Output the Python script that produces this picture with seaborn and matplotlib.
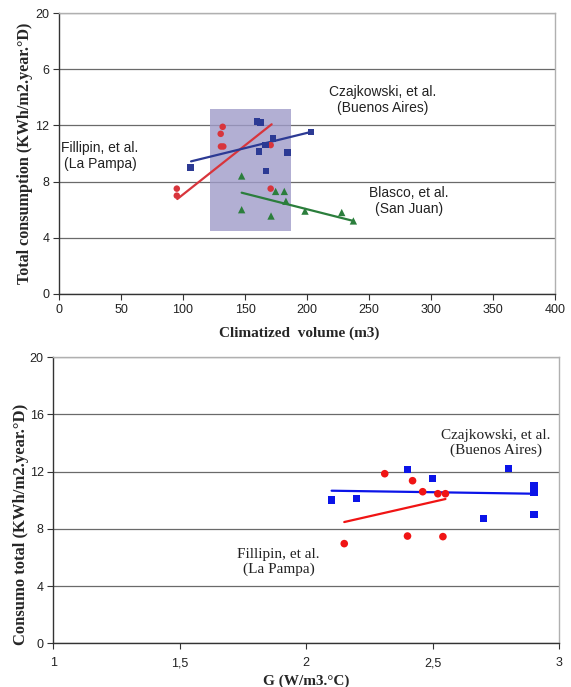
import matplotlib
matplotlib.use("Agg")
import matplotlib.pyplot as plt
import seaborn as sns
import pandas as pd
from matplotlib.patches import Rectangle

# ---------------- data: top chart (climatized volume) ----------------
fil_vol_x = [95, 95, 132, 130.4, 130.6, 132.5, 170.7, 170.7]
fil_vol_y = [7.5, 7.0, 11.9, 11.4, 10.5, 10.5, 10.6, 7.5]
fil_vol_trend_x = [95.4, 171.5]
fil_vol_trend_y = [6.76, 12.08]

cza_vol_x = [105.9, 159.7, 162.4, 161.3, 166.7, 172.6, 166.9, 184.1, 203.2]
cza_vol_y = [9.0, 12.27, 12.19, 10.13, 10.6, 11.05, 8.75, 10.06, 11.53]
cza_vol_trend_x = [106.5, 203.0]
cza_vol_trend_y = [9.44, 11.53]

bla_vol_x = [147.3, 174.7, 181.7, 183.0, 147.3, 171.0, 198.4, 228.0, 237.4]
bla_vol_y = [8.4, 7.3, 7.3, 6.6, 6.0, 5.55, 5.9, 5.8, 5.2]
bla_vol_trend_x = [147.3, 237.4]
bla_vol_trend_y = [7.21, 5.2]

shade_x = [122, 187]
shade_y = [4.48, 13.15]

top_xticks = [0, 50, 100, 150, 200, 250, 300, 350, 400]
top_yticks = [0, 4, 8, 12, 16, 20]
top_ytick_labels = ["0", "4", "8", "12", "6", "20"]

# ---------------- data: bottom chart (G coefficient) ----------------
cza_g_x = [2.10, 2.20, 2.40, 2.50, 2.80, 2.90, 2.90, 2.90, 2.70]
cza_g_y = [10.02, 10.11, 12.14, 11.51, 12.24, 11.02, 10.56, 8.99, 8.71]
cza_g_trend_x = [2.10, 2.90]
cza_g_trend_y = [10.67, 10.46]

fil_g_x = [2.31, 2.42, 2.46, 2.52, 2.55, 2.15, 2.40, 2.54]
fil_g_y = [11.86, 11.37, 10.6, 10.46, 10.46, 6.97, 7.5, 7.46]
fil_g_trend_x = [2.15, 2.55]
fil_g_trend_y = [8.48, 10.09]

bot_xticks = [1, 1.5, 2, 2.5, 3]
bot_xtick_labels = ["1", "1,5", "2", "2,5", "3"]
bot_yticks = [0, 4, 8, 12, 16, 20]

# ---------------- styling ----------------
sns.set_style("white")
plt.rcParams["font.family"] = ["Liberation Sans", "DejaVu Sans"]

SERIF = ["Liberation Serif", "DejaVu Serif"]
SANS = ["Liberation Sans", "DejaVu Sans"]

fig = plt.figure(figsize=(5.71, 6.87), dpi=100)
ax1 = fig.add_axes([59 / 571, 1 - 294 / 687, 496 / 571, 281 / 687])
ax2 = fig.add_axes([53.3 / 571, 1 - 643.3 / 687, 506 / 571, 286 / 687])


def style_axes(ax):
    for s in ["left", "bottom"]:
        ax.spines[s].set_color("#333333")
        ax.spines[s].set_linewidth(1.0)
    for s in ["top", "right"]:
        ax.spines[s].set_color("#b0b0b0")
        ax.spines[s].set_linewidth(1.0)
    ax.tick_params(axis="both", direction="out", length=4, width=0.8,
                   color="#333333", labelsize=9, pad=3, labelcolor="#222222")
    ax.tick_params(left=True, bottom=True)
    ax.yaxis.grid(True, color="#6a6a6a", linewidth=0.9)
    ax.xaxis.grid(False)
    ax.set_axisbelow(True)


# ---------------- top chart ----------------
style_axes(ax1)
ax1.add_patch(Rectangle((shade_x[0], shade_y[0]), shade_x[1] - shade_x[0],
                        shade_y[1] - shade_y[0], facecolor="#9f9bc9",
                        edgecolor="none", alpha=0.8, zorder=1))

c_red, c_blue, c_green = "#d8353c", "#2c3a94", "#2b7e3c"
sns.lineplot(x=fil_vol_trend_x, y=fil_vol_trend_y, ax=ax1, color=c_red, lw=1.6, zorder=3)
sns.lineplot(x=cza_vol_trend_x, y=cza_vol_trend_y, ax=ax1, color=c_blue, lw=1.6, zorder=3)
sns.lineplot(x=bla_vol_trend_x, y=bla_vol_trend_y, ax=ax1, color=c_green, lw=1.6, zorder=3)
sns.scatterplot(x=fil_vol_x, y=fil_vol_y, ax=ax1, color=c_red, marker="o", s=22,
                edgecolor="none", zorder=4)
sns.scatterplot(x=cza_vol_x, y=cza_vol_y, ax=ax1, color=c_blue, marker="s", s=22,
                edgecolor="none", zorder=4)
sns.scatterplot(x=bla_vol_x, y=bla_vol_y, ax=ax1, color=c_green, marker="^", s=28,
                edgecolor="none", zorder=4)

ax1.set_xlim(0, 400)
ax1.set_ylim(0, 20)
ax1.set_xticks(top_xticks)
ax1.set_yticks(top_yticks)
ax1.set_yticklabels(top_ytick_labels)
ax1.set_xlabel("Climatized  volume (m3)", family=SERIF, fontweight="bold", fontsize=11)
ax1.set_ylabel("Total consumption (KWh/m2.year.\u00b0D)", family=SERIF,
               fontweight="bold", fontsize=11.6)
ax1.xaxis.set_label_coords(0.484, -0.115)
ax1.yaxis.set_label_coords(-0.052, 0.502)

ax1.text(261, 13.8, "Czajkowski, et al.\n(Buenos Aires)", ha="center", va="center",
         fontsize=10, family=SANS, color="#222222", linespacing=1.15)
ax1.text(33, 9.8, "Fillipin, et al.\n(La Pampa)", ha="center", va="center",
         fontsize=10, family=SANS, color="#222222", linespacing=1.15)
ax1.text(282, 6.6, "Blasco, et al.\n(San Juan)", ha="center", va="center",
         fontsize=10, family=SANS, color="#222222", linespacing=1.15)

# ---------------- bottom chart ----------------
style_axes(ax2)
b_blue, b_red = "#0b14e8", "#f01414"
sns.lineplot(x=cza_g_trend_x, y=cza_g_trend_y, ax=ax2, color=b_blue, lw=1.6, zorder=3)
sns.lineplot(x=fil_g_trend_x, y=fil_g_trend_y, ax=ax2, color=b_red, lw=1.6, zorder=3)
sns.scatterplot(x=cza_g_x, y=cza_g_y, ax=ax2, color=b_blue, marker="s", s=26,
                edgecolor="none", zorder=4)
sns.scatterplot(x=fil_g_x, y=fil_g_y, ax=ax2, color=b_red, marker="o", s=30,
                edgecolor="none", zorder=4)

ax2.set_xlim(1, 3)
ax2.set_ylim(0, 20)
ax2.set_xticks(bot_xticks)
ax2.set_xticklabels(bot_xtick_labels)
ax2.set_yticks(bot_yticks)
ax2.tick_params(axis="x", pad=6)
ax2.set_xlabel("G (W/m3.\u00b0C)", family=SERIF, fontweight="bold", fontsize=11)
ax2.set_ylabel("Consumo total (KWh/m2.year.\u00b0D)", family=SERIF,
               fontweight="bold", fontsize=12)
ax2.xaxis.set_label_coords(0.5, -0.108)
ax2.yaxis.set_label_coords(-0.048, 0.417)

ax2.text(2.75, 14.0, "Czajkowski, et al.\n(Buenos Aires)", ha="center", va="center",
         fontsize=11, family=SERIF, color="#222222", linespacing=1.2)
ax2.text(1.89, 5.7, "Fillipin, et al.\n(La Pampa)", ha="center", va="center",
         fontsize=11, family=SERIF, color="#222222", linespacing=1.2)

fig.savefig("out.png", dpi=100)
